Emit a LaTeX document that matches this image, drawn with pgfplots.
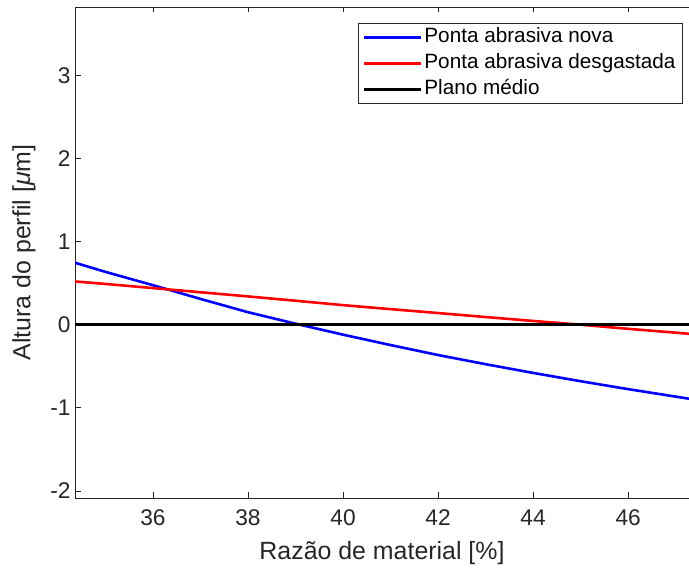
\documentclass[border=0pt]{standalone}
\usepackage{fontspec}
\setmainfont{Liberation Sans}
\usepackage{pgfplots}
\pgfplotsset{compat=1.18}
\definecolor{axgray}{RGB}{38,38,38}

\begin{document}
\begin{tikzpicture}
\useasboundingbox (0,0) rectangle (689bp,569bp);
\begin{axis}[
  at={(75bp,71bp)}, anchor=south west,
  width=614bp, height=491bp, scale only axis,
  xmin=34.36, xmax=47.28, ymin=-2.084, ymax=3.82,
  xtick={36,38,...,46}, ytick={-2,...,3},
  axis y line*=left,
  axis line style={axgray, line width=0.8bp, -},
  tick style={axgray, line width=0.8bp},
  tick align=inside,
  major tick length=5.5bp,
  /pgf/number format/assume math mode=true,
  tick label style={font=\fontsize{22.8}{27}\selectfont, text=axgray},
  xticklabel style={yshift=-8bp},
  yticklabel style={xshift=-1bp},
  label style={font=\fontsize{25}{30}\selectfont, text=axgray},
  xlabel={Razão de material [\%]},
  ylabel={Altura do perfil [\textit{μ}m]},
  xlabel style={at={(axis description cs:0.5,-0.1253)}, anchor=base},
  ylabel style={at={(axis description cs:-0.083,0.5)}, anchor=center},
  legend image code/.code={\draw[#1, line width=2.6bp] (0bp,0bp) -- (57bp,0bp);},
  legend cell align=left,
  legend style={at={(0.990,0.967)}, anchor=north east,
    draw=axgray, line width=0.6bp, fill=white,
    font=\fontsize{20.8}{24}\selectfont, text=black,
    inner xsep=5bp, inner ysep=2bp, row sep=2.5bp,
    nodes={inner sep=2bp, text height=15bp, text depth=4.5bp}},
]
% Ponta abrasiva nova
\addplot[blue, line width=2.6bp] coordinates {
  (34.36,0.745)(35,0.635)(36,0.475)(37,0.31)(38,0.15)(39,0.012)(40,-0.12)
  (41,-0.245)(42,-0.365)(43,-0.475)(44,-0.58)(45,-0.68)(46,-0.775)(47,-0.865)(47.28,-0.89)
};
\addlegendentry{Ponta abrasiva nova}
% Ponta abrasiva desgastada
\addplot[red, line width=2.6bp] coordinates {
  (34.36,0.52)(35,0.49)(36,0.44)(37,0.39)(38,0.34)(39,0.288)(40,0.235)(41,0.187)
  (42,0.14)(43,0.092)(44,0.045)(45,0.0)(46,-0.05)(47,-0.096)(47.28,-0.11)
};
\addlegendentry{Ponta abrasiva desgastada}
% Plano medio
\addplot[black, line width=2.8bp] coordinates {(34.36,0)(47.28,0)};
\addlegendentry{Plano médio}
\end{axis}
\end{tikzpicture}
\end{document}
